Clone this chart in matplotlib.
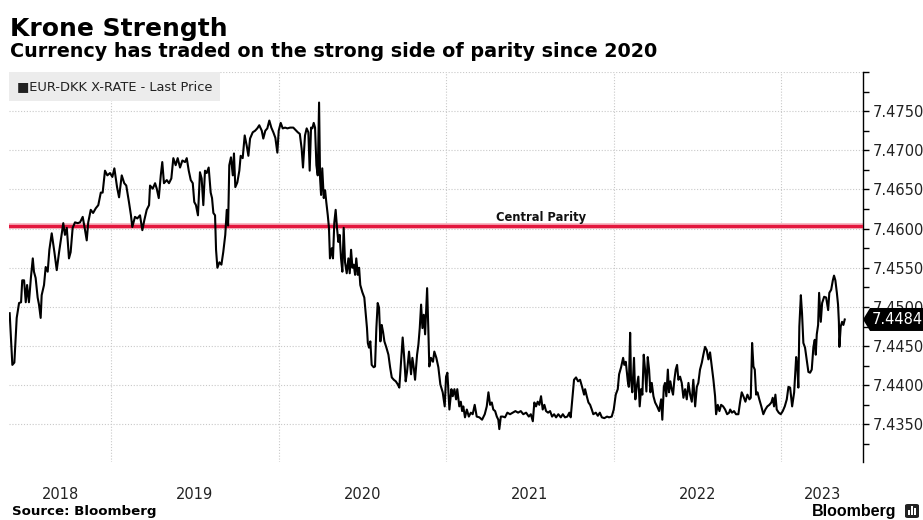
import numpy as np
import matplotlib
matplotlib.use("Agg")
import matplotlib.pyplot as plt
from matplotlib.patches import Polygon, Rectangle, FancyBboxPatch
from matplotlib import transforms

# EUR-DKK daily fixing, sampled, as (decimal year, rate) by calendar year
years_2018 = [2018.395, 2018.411, 2018.423, 2018.437, 2018.451, 2018.463, 2018.470, 2018.481, 2018.491, 2018.499,
              2018.510, 2018.522, 2018.533, 2018.540, 2018.550, 2018.562, 2018.570, 2018.580, 2018.586, 2018.600,
              2018.610, 2018.622, 2018.632, 2018.646, 2018.662, 2018.676, 2018.690, 2018.702, 2018.715, 2018.725,
              2018.736, 2018.749, 2018.759, 2018.771, 2018.785, 2018.801, 2018.815, 2018.831, 2018.845, 2018.855,
              2018.864, 2018.879, 2018.893, 2018.909, 2018.924, 2018.939, 2018.950, 2018.964, 2018.978, 2018.994]
rate_2018 = [7.4492, 7.4426, 7.4429, 7.4486, 7.4505, 7.4506, 7.4534, 7.4534, 7.4506, 7.4528,
             7.4506, 7.4538, 7.4562, 7.4545, 7.4537, 7.4512, 7.4503, 7.4486, 7.4515, 7.4528,
             7.4551, 7.4545, 7.4573, 7.4594, 7.4570, 7.4547, 7.4570, 7.4588, 7.4607, 7.4592,
             7.4601, 7.4562, 7.4570, 7.4601, 7.4608, 7.4607, 7.4608, 7.4615, 7.4598, 7.4585,
             7.4608, 7.4624, 7.4620, 7.4626, 7.4630, 7.4646, 7.4646, 7.4674, 7.4668, 7.4671]

years_2019 = [2019.008, 2019.020, 2019.036, 2019.048, 2019.064, 2019.079, 2019.091, 2019.107, 2019.119, 2019.127,
              2019.143, 2019.157, 2019.173, 2019.187, 2019.199, 2019.213, 2019.227, 2019.233, 2019.249, 2019.263,
              2019.273, 2019.285, 2019.297, 2019.306, 2019.316, 2019.333, 2019.346, 2019.360, 2019.372, 2019.386,
              2019.398, 2019.412, 2019.426, 2019.442, 2019.452, 2019.464, 2019.476, 2019.488, 2019.497, 2019.507,
              2019.519, 2019.531, 2019.541, 2019.551, 2019.561, 2019.571, 2019.583, 2019.595, 2019.603, 2019.611,
              2019.621, 2019.627, 2019.635, 2019.647, 2019.659, 2019.670, 2019.682, 2019.691, 2019.699, 2019.706,
              2019.716, 2019.727, 2019.734, 2019.742, 2019.754, 2019.766, 2019.774, 2019.786, 2019.798, 2019.810,
              2019.820, 2019.830, 2019.846, 2019.860, 2019.873, 2019.885, 2019.900, 2019.909, 2019.921, 2019.933,
              2019.945, 2019.957, 2019.969, 2019.981, 2019.993]
rate_2019 = [7.4666, 7.4677, 7.4653, 7.4640, 7.4668, 7.4658, 7.4655, 7.4634, 7.4617, 7.4602,
             7.4615, 7.4613, 7.4617, 7.4598, 7.4611, 7.4624, 7.4630, 7.4655, 7.4651, 7.4658,
             7.4651, 7.4639, 7.4668, 7.4685, 7.4658, 7.4662, 7.4658, 7.4664, 7.4690, 7.4681,
             7.4690, 7.4678, 7.4687, 7.4685, 7.4690, 7.4674, 7.4662, 7.4658, 7.4634, 7.4630,
             7.4617, 7.4672, 7.4664, 7.4630, 7.4674, 7.4671, 7.4678, 7.4646, 7.4639, 7.4620,
             7.4617, 7.4573, 7.4550, 7.4557, 7.4554, 7.4570, 7.4592, 7.4624, 7.4604, 7.4681,
             7.4691, 7.4668, 7.4696, 7.4653, 7.4659, 7.4674, 7.4693, 7.4690, 7.4719, 7.4706,
             7.4693, 7.4715, 7.4723, 7.4725, 7.4728, 7.4732, 7.4725, 7.4715, 7.4725, 7.4728,
             7.4738, 7.4729, 7.4723, 7.4716, 7.4697]

years_2020 = [2020.001, 2020.013, 2020.025, 2020.039, 2020.053, 2020.069, 2020.088, 2020.115, 2020.127, 2020.138,
              2020.146, 2020.158, 2020.168, 2020.178, 2020.186, 2020.194, 2020.202, 2020.210, 2020.218, 2020.226,
              2020.234, 2020.242, 2020.248, 2020.254, 2020.261, 2020.270, 2020.278, 2020.285, 2020.294, 2020.301,
              2020.307, 2020.318, 2020.325, 2020.333, 2020.341, 2020.349, 2020.357, 2020.365, 2020.373, 2020.381,
              2020.389, 2020.397, 2020.407, 2020.417, 2020.425, 2020.433, 2020.441, 2020.449, 2020.457, 2020.464,
              2020.473, 2020.481, 2020.488, 2020.500, 2020.512, 2020.521, 2020.528, 2020.533, 2020.540, 2020.548,
              2020.556, 2020.568, 2020.576, 2020.584, 2020.592, 2020.600, 2020.608, 2020.616, 2020.624, 2020.632,
              2020.644, 2020.656, 2020.666, 2020.676, 2020.688, 2020.700, 2020.712, 2020.721, 2020.731, 2020.741,
              2020.749, 2020.759, 2020.767, 2020.779, 2020.791, 2020.799, 2020.807, 2020.815, 2020.827, 2020.835,
              2020.843, 2020.851, 2020.859, 2020.867, 2020.875, 2020.887, 2020.894, 2020.900, 2020.910, 2020.922,
              2020.930, 2020.942, 2020.954, 2020.966, 2020.980, 2020.992]
rate_2020 = [7.4725, 7.4735, 7.4728, 7.4729, 7.4728, 7.4729, 7.4729, 7.4723, 7.4721, 7.4702,
             7.4678, 7.4719, 7.4728, 7.4723, 7.4674, 7.4729, 7.4728, 7.4735, 7.4729, 7.4681,
             7.4668, 7.4761, 7.4664, 7.4643, 7.4677, 7.4639, 7.4649, 7.4634, 7.4617, 7.4601,
             7.4562, 7.4575, 7.4562, 7.4608, 7.4624, 7.4601, 7.4583, 7.4592, 7.4562, 7.4545,
             7.4601, 7.4557, 7.4543, 7.4562, 7.4543, 7.4573, 7.4550, 7.4554, 7.4541, 7.4562,
             7.4541, 7.4550, 7.4528, 7.4519, 7.4512, 7.4490, 7.4473, 7.4454, 7.4448, 7.4456,
             7.4426, 7.4423, 7.4424, 7.4473, 7.4505, 7.4499, 7.4456, 7.4477, 7.4468, 7.4456,
             7.4448, 7.4439, 7.4423, 7.4410, 7.4407, 7.4405, 7.4401, 7.4397, 7.4430, 7.4461,
             7.4439, 7.4405, 7.4417, 7.4443, 7.4414, 7.4435, 7.4423, 7.4407, 7.4439, 7.4452,
             7.4473, 7.4503, 7.4473, 7.4490, 7.4465, 7.4524, 7.4473, 7.4424, 7.4435, 7.4430,
             7.4443, 7.4435, 7.4423, 7.4401, 7.4391, 7.4373]

years_2021 = [2021.000, 2021.008, 2021.020, 2021.032, 2021.040, 2021.050, 2021.060, 2021.067, 2021.079, 2021.088,
              2021.096, 2021.103, 2021.113, 2021.124, 2021.136, 2021.148, 2021.159, 2021.171, 2021.183, 2021.199,
              2021.215, 2021.231, 2021.243, 2021.253, 2021.263, 2021.273, 2021.282, 2021.293, 2021.303, 2021.312,
              2021.318, 2021.327, 2021.339, 2021.352, 2021.366, 2021.382, 2021.398, 2021.414, 2021.430, 2021.446,
              2021.461, 2021.478, 2021.494, 2021.506, 2021.518, 2021.527, 2021.537, 2021.547, 2021.557, 2021.567,
              2021.577, 2021.587, 2021.597, 2021.609, 2021.621, 2021.633, 2021.645, 2021.657, 2021.670, 2021.685,
              2021.697, 2021.710, 2021.724, 2021.736, 2021.744, 2021.752, 2021.764, 2021.776, 2021.788, 2021.800,
              2021.812, 2021.824, 2021.830, 2021.840, 2021.850, 2021.860, 2021.870, 2021.879, 2021.894, 2021.906,
              2021.918, 2021.930, 2021.945, 2021.961, 2021.973, 2021.989]
rate_2021 = [7.4411, 7.4416, 7.4369, 7.4395, 7.4386, 7.4395, 7.4382, 7.4395, 7.4373, 7.4379,
             7.4367, 7.4373, 7.4359, 7.4369, 7.4360, 7.4365, 7.4363, 7.4375, 7.4360, 7.4359,
             7.4356, 7.4363, 7.4373, 7.4391, 7.4375, 7.4378, 7.4369, 7.4367, 7.4360, 7.4356,
             7.4344, 7.4360, 7.4360, 7.4359, 7.4365, 7.4363, 7.4365, 7.4367, 7.4365, 7.4367,
             7.4363, 7.4365, 7.4360, 7.4363, 7.4354, 7.4378, 7.4373, 7.4379, 7.4375, 7.4386,
             7.4369, 7.4375, 7.4367, 7.4365, 7.4367, 7.4360, 7.4363, 7.4359, 7.4363, 7.4359,
             7.4363, 7.4359, 7.4360, 7.4365, 7.4359, 7.4378, 7.4407, 7.4410, 7.4405, 7.4407,
             7.4398, 7.4388, 7.4395, 7.4386, 7.4378, 7.4375, 7.4369, 7.4363, 7.4365, 7.4361,
             7.4365, 7.4359, 7.4358, 7.4360, 7.4359, 7.4360]

years_2022 = [2022.001, 2022.013, 2022.025, 2022.033, 2022.045, 2022.057, 2022.064, 2022.073, 2022.085, 2022.091,
              2022.099, 2022.104, 2022.112, 2022.122, 2022.130, 2022.138, 2022.148, 2022.156, 2022.164, 2022.172,
              2022.180, 2022.188, 2022.196, 2022.204, 2022.212, 2022.220, 2022.228, 2022.238, 2022.248, 2022.260,
              2022.272, 2022.284, 2022.291, 2022.300, 2022.307, 2022.315, 2022.324, 2022.331, 2022.339, 2022.347,
              2022.355, 2022.363, 2022.371, 2022.379, 2022.387, 2022.397, 2022.407, 2022.417, 2022.427, 2022.437,
              2022.447, 2022.457, 2022.467, 2022.476, 2022.487, 2022.497, 2022.506, 2022.516, 2022.527, 2022.536,
              2022.546, 2022.556, 2022.566, 2022.576, 2022.586, 2022.596, 2022.606, 2022.612, 2022.622, 2022.632,
              2022.642, 2022.654, 2022.666, 2022.678, 2022.690, 2022.696, 2022.707, 2022.719, 2022.731, 2022.745,
              2022.755, 2022.765, 2022.775, 2022.787, 2022.799, 2022.811, 2022.819, 2022.827, 2022.835, 2022.843,
              2022.851, 2022.859, 2022.870, 2022.882, 2022.894, 2022.906, 2022.918, 2022.930, 2022.942, 2022.950,
              2022.958, 2022.966, 2022.974, 2022.986, 2022.998]
rate_2022 = [7.4369, 7.4388, 7.4395, 7.4414, 7.4423, 7.4435, 7.4426, 7.4430, 7.4405, 7.4398,
             7.4467, 7.4407, 7.4391, 7.4435, 7.4382, 7.4398, 7.4411, 7.4373, 7.4395, 7.4388,
             7.4439, 7.4420, 7.4392, 7.4436, 7.4420, 7.4391, 7.4403, 7.4386, 7.4378, 7.4373,
             7.4367, 7.4382, 7.4356, 7.4398, 7.4403, 7.4386, 7.4420, 7.4391, 7.4405, 7.4395,
             7.4388, 7.4407, 7.4420, 7.4426, 7.4407, 7.4411, 7.4403, 7.4384, 7.4395, 7.4382,
             7.4403, 7.4388, 7.4379, 7.4407, 7.4373, 7.4398, 7.4403, 7.4420, 7.4429, 7.4439,
             7.4449, 7.4445, 7.4433, 7.4442, 7.4424, 7.4407, 7.4386, 7.4363, 7.4375, 7.4367,
             7.4375, 7.4373, 7.4369, 7.4363, 7.4365, 7.4369, 7.4365, 7.4367, 7.4363, 7.4363,
             7.4378, 7.4391, 7.4386, 7.4379, 7.4388, 7.4382, 7.4384, 7.4454, 7.4424, 7.4420,
             7.4388, 7.4391, 7.4382, 7.4373, 7.4363, 7.4369, 7.4373, 7.4375, 7.4378, 7.4384,
             7.4373, 7.4388, 7.4369, 7.4365, 7.4363]

years_2023 = [2023.010, 2023.022, 2023.034, 2023.044, 2023.054, 2023.066, 2023.078, 2023.090, 2023.097, 2023.103,
              2023.109, 2023.118, 2023.125, 2023.133, 2023.143, 2023.153, 2023.163, 2023.173, 2023.183, 2023.193,
              2023.201, 2023.207, 2023.213, 2023.221, 2023.227, 2023.237, 2023.245, 2023.257, 2023.269, 2023.281,
              2023.288, 2023.299, 2023.309, 2023.316, 2023.324, 2023.333, 2023.340, 2023.345, 2023.348, 2023.356,
              2023.364, 2023.372, 2023.380]
rate_2023 = [7.4367, 7.4373, 7.4382, 7.4398, 7.4397, 7.4373, 7.4391, 7.4436, 7.4424, 7.4397,
             7.4475, 7.4515, 7.4492, 7.4454, 7.4448, 7.4433, 7.4417, 7.4416, 7.4420, 7.4449,
             7.4458, 7.4439, 7.4465, 7.4477, 7.4518, 7.4481, 7.4505, 7.4513, 7.4512, 7.4496,
             7.4518, 7.4522, 7.4534, 7.4540, 7.4534, 7.4518, 7.4503, 7.4481, 7.4449, 7.4475,
             7.4481, 7.4477, 7.4484]

CENTRAL_PARITY = 7.46038
SERIES_NAME = "EUR-DKK X-RATE - Last Price"
year_labels = [2018, 2019, 2020, 2021, 2022, 2023]
y_major = [7.4350, 7.4400, 7.4450, 7.4500, 7.4550, 7.4600, 7.4650, 7.4700, 7.4750]

years = np.concatenate([years_2018, years_2019, years_2020, years_2021, years_2022, years_2023])
rate = np.concatenate([rate_2018, rate_2019, rate_2020, rate_2021, rate_2022, rate_2023])
last = rate[-1]

W, H, DPI = 923, 520, 100
fig = plt.figure(figsize=(W / DPI, H / DPI), dpi=DPI)
fig.patch.set_facecolor("white")
plt.rcParams["font.family"] = ["DejaVu Sans"]

L, R, T, B = 9, 863, 72, 462
ax = fig.add_axes([L / W, 1 - B / H, (R - L) / W, (B - T) / H])
x0, x1 = 2018.391, 2023.489
ax.set_xlim(x0, x1)
ax.set_ylim(7.4302, 7.4800)

# dotted grid
grid_kw = dict(color="#c9c9c9", lw=0.8, ls=(0, (1, 1.6)), zorder=0)
for yv in y_major + [7.4800]:
    ax.axhline(yv, **grid_kw)
for yr in year_labels[1:]:
    ax.axvline(yr, **grid_kw)

# central parity band
ax.axhline(CENTRAL_PARITY, color="#f6a9b6", lw=4.0, zorder=2)
ax.axhline(CENTRAL_PARITY, color="#e3173e", lw=2.3, zorder=3)
ax.text(2021.567, CENTRAL_PARITY + 0.00025, "Central Parity", ha="center", va="bottom",
        fontsize=8.3, fontweight="bold", color="#111111", zorder=4)

ax.plot(years, rate, color="black", lw=1.5, zorder=5)

# right-hand price axis
ax.yaxis.tick_right()
ax.set_yticks(y_major)
ax.set_yticklabels([f"{v:.4f}" for v in y_major])
minor = [round(7.4325 + 0.005 * i, 4) for i in range(10)] + [7.4800]
ax.set_yticks(minor, minor=True)
ax.tick_params(axis="y", which="both", direction="out", length=4, width=1,
               color="black", pad=3, labelsize=10.5, labelcolor="#222222")
ax.set_xticks([])
for s in ["top", "left", "bottom"]:
    ax.spines[s].set_visible(False)
ax.spines["right"].set_color("black")
ax.spines["right"].set_linewidth(1)

# year labels centred on the visible part of each year
xlab_tr = transforms.blended_transform_factory(ax.transData, ax.transAxes)
for yr in year_labels:
    lo, hi = max(yr, x0), min(yr + 1, x1)
    ax.text((lo + hi) / 2, -37 / 390, str(yr), transform=xlab_tr, ha="center",
            va="baseline", fontsize=10.5, color="#222222", clip_on=False)

# legend box
ax.add_patch(Rectangle((0, 1 - 29 / 390), 211 / 854, 29 / 390, transform=ax.transAxes,
                       facecolor="#ececec", edgecolor="none", zorder=6, clip_on=False))
ax.text(8 / 854, 1 - 15 / 390, "\u25a0" + SERIES_NAME, transform=ax.transAxes,
        ha="left", va="center", fontsize=9.4, color="#222222", zorder=7)

# last price tag on the axis
anchor = transforms.blended_transform_factory(ax.transAxes, ax.transData)
tag_tr = fig.dpi_scale_trans + transforms.ScaledTranslation(1.0, last, anchor)
tag = Polygon([(0.0, 0.0), (0.07, 0.115), (0.70, 0.115), (0.70, -0.115), (0.07, -0.115)],
              closed=True, transform=tag_tr, facecolor="black", edgecolor="none",
              zorder=10, clip_on=False)
ax.add_patch(tag)
ax.annotate(f"{last:.4f}", xy=(1.0, last), xycoords=anchor, xytext=(9, 0),
            textcoords="offset pixels", color="white", ha="left", va="center",
            fontsize=10.5, zorder=11, annotation_clip=False)

# titles and footer
fig.text(10 / W, 1 - 36 / H, "Krone Strength", fontsize=18, fontweight="bold",
         ha="left", va="baseline", color="black")
fig.text(10 / W, 1 - 57 / H, "Currency has traded on the strong side of parity since 2020",
         fontsize=13.8, fontweight="bold", ha="left", va="baseline", color="black")
fig.text(12 / W, 1 - 515 / H, "Source: Bloomberg", fontsize=9.6, fontweight="bold",
         ha="left", va="baseline", color="black")
fig.text(896 / W, 1 - 516 / H, "Bloomberg", fontsize=11.5, fontweight="bold",
         family=["Liberation Sans", "DejaVu Sans"], ha="right", va="baseline", color="black")

# small bar-chart logo mark
icon = FancyBboxPatch((905 / W, 1 - 518 / H), 14 / W, 14 / H,
                      boxstyle="round,pad=0,rounding_size=0.003",
                      transform=fig.transFigure, facecolor="#222222", edgecolor="none")
fig.add_artist(icon)
for i, hgt in enumerate([5, 9, 7]):
    fig.add_artist(Rectangle(((908 + 3 * i) / W, 1 - 515 / H), 2 / W, hgt / H,
                             transform=fig.transFigure, facecolor="white", edgecolor="none"))

fig.savefig("out.png", dpi=DPI, facecolor="white")
